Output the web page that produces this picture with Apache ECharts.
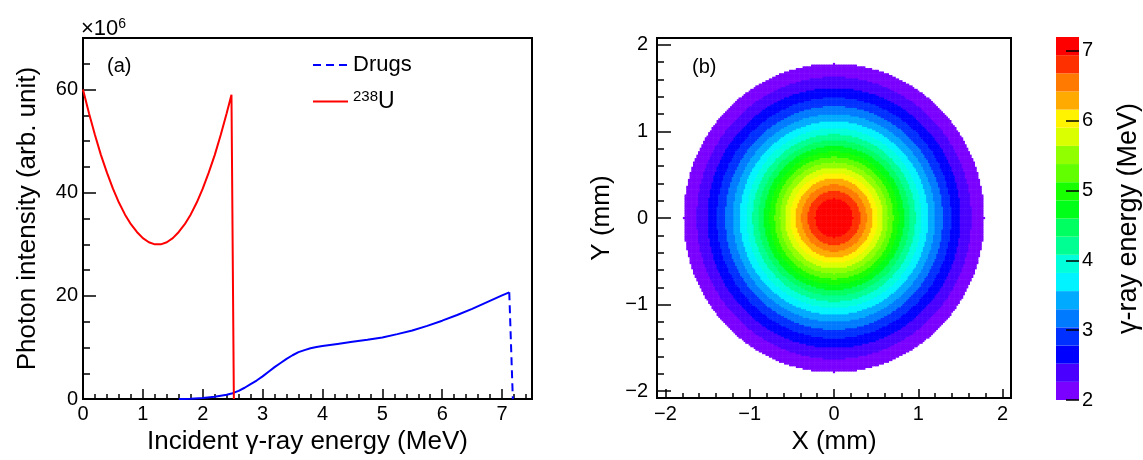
<!DOCTYPE html>
<html>
<head>
<meta charset="utf-8">
<script src="https://cdn.jsdelivr.net/npm/echarts@6/dist/echarts.min.js"></script>
<style>html,body{margin:0;padding:0;background:#fff}#c{width:1143px;height:460px}</style>
</head>
<body>
<div id="c"></div>
<script>
// ---------------- Panel (a) data ----------------
const uEnergy    = [0, 0.1, 0.2, 0.3, 0.4, 0.5, 0.6, 0.7, 0.8, 0.9, 1.0, 1.1, 1.2, 1.3, 1.4, 1.5, 1.6, 1.7, 1.8, 1.9, 2.0, 2.1, 2.2, 2.3, 2.4, 2.48, 2.52];
const uIntensity = [60, 55.4, 51.2, 47.3, 43.9, 40.8, 38.1, 35.8, 33.9, 32.4, 31.2, 30.4, 30.0, 30.0, 30.4, 31.2, 32.4, 33.9, 35.8, 38.1, 40.8, 43.9, 47.3, 51.2, 55.4, 59.0, 0];

const drugsEnergy    = [1.6, 1.8, 2.0, 2.2, 2.4, 2.5, 2.6, 2.7, 2.8, 2.9, 3.0, 3.1, 3.2, 3.3, 3.4, 3.5, 3.6, 3.7, 3.8, 3.9, 4.0, 4.25, 4.5, 4.75, 5.0, 5.25, 5.5, 5.75, 6.0, 6.25, 6.5, 6.75, 7.0, 7.12];
const drugsIntensity = [0, 0.05, 0.2, 0.45, 0.85, 1.15, 1.6, 2.2, 2.9, 3.6, 4.4, 5.3, 6.2, 7.0, 7.8, 8.5, 9.1, 9.5, 9.85, 10.1, 10.3, 10.7, 11.1, 11.5, 11.95, 12.6, 13.3, 14.2, 15.2, 16.3, 17.5, 18.8, 20.1, 20.7];
const drugsCutEnergy    = [7.12, 7.18];
const drugsCutIntensity = [20.7, 0];

const aXTicks = [0, 1, 2, 3, 4, 5, 6, 7];
const aYTicks = [0, 20, 40, 60];

// ---------------- Panel (b) data ----------------
// energy bands of the colour scale (lower edge, MeV) and colours
const bandLower  = [2.00, 2.26, 2.52, 2.78, 3.04, 3.30, 3.56, 3.82, 4.08, 4.34, 4.60, 4.86, 5.12, 5.38, 5.64, 5.90, 6.16, 6.42, 6.68, 6.94];
const bandColors = ['#7a00ff', '#4900ff', '#0000ff', '#0030ff', '#007aff', '#00aaff', '#00f3ff', '#00ffda', '#00ff92', '#00ff61',
                    '#00ff18', '#18ff00', '#61ff00', '#92ff00', '#daff00', '#fff300', '#ffaa00', '#ff7a00', '#ff3000', '#ff0000'];
// radius (mm) on the spot at which the energy drops to each band's lower edge
const bandOuterRadius = [1.78, 1.626, 1.499, 1.387, 1.287, 1.196, 1.112, 1.035, 0.962, 0.893, 0.827, 0.763, 0.701, 0.640, 0.579, 0.516, 0.452, 0.383, 0.307, 0.22];
const scaleMax = 7.2;
const bTicks = [-2, -1, 0, 1, 2];
const cTicks = [2, 3, 4, 5, 6, 7];

// ---------------- build ----------------
const FONT = '"Liberation Sans", Arial, Helvetica, sans-serif';
const txt = (size) => ({ fontSize: size, color: '#000', fontFamily: FONT });
const minusFmt = v => (v < 0 ? '\u2212' + Math.abs(v) : String(v));
function steps(from, to, step, skip) {
  const out = [];
  for (let v = from; v <= to + 1e-9; v += step) {
    const r = Math.round(v * 1000) / 1000;
    if (!skip.some(s => Math.abs(s - r) < 1e-6)) out.push(r);
  }
  return out;
}

function axisPair(gridIndex, min, max, major, minor, majLen, minLen, labelMargin, fmt, name, nameGap, position) {
  const main = {
    type: 'value', gridIndex, min, max, position,
    axisLine: { show: false, onZero: false }, splitLine: { show: false },
    axisTick: { show: true, inside: true, length: majLen, customValues: major, lineStyle: { color: '#000', width: 1.5 } },
    axisLabel: { show: true, customValues: major, margin: labelMargin, formatter: fmt, ...txt(20) },
    name, nameLocation: 'middle', nameGap, nameTextStyle: txt(26)
  };
  const mnr = {
    type: 'value', gridIndex, min, max, position,
    axisLine: { show: false, onZero: false }, splitLine: { show: false },
    axisTick: { show: true, inside: true, length: minLen, customValues: minor, lineStyle: { color: '#000', width: 1.5 } },
    axisLabel: { show: false }
  };
  return [main, mnr];
}

// panel a axes
const [ax0, ax1] = axisPair(0, 0, 7.5, aXTicks, steps(0, 7.5, 0.2, aXTicks), 10, 5, 5, null, 'Incident \u03b3-ray energy (MeV)', 28, 'bottom');
const [ay0, ay1] = axisPair(0, 0, 70, aYTicks, steps(0, 70, 5, aYTicks), 13, 7, 5, null, 'Photon intensity (arb. unit)', 42, 'left');
// panel b axes
const [bx0, bx1] = axisPair(1, -2.1, 2.1, bTicks, steps(-2, 2, 0.2, bTicks), 9, 5, 6, minusFmt, 'X (mm)', 30, 'bottom');
const [by0, by1] = axisPair(1, -2.08, 2.08, bTicks, steps(-2, 2, 0.2, bTicks), 14, 7, 9, minusFmt, 'Y (mm)', 42, 'left');
// colour bar axes
const cx = { type: 'value', gridIndex: 2, min: 0, max: 1, show: false, axisLine: { onZero: false } };
const cy = {
  type: 'value', gridIndex: 2, min: 2, max: scaleMax, position: 'right', z: 10,
  axisLine: { show: false, onZero: false }, splitLine: { show: false },
  axisTick: { show: true, inside: true, length: 13, customValues: cTicks, lineStyle: { color: '#000', width: 1.5 } },
  axisLabel: { show: true, customValues: cTicks, margin: 3, ...txt(20) },
  name: '\u03b3-ray energy (MeV)', nameLocation: 'middle', nameGap: 36, nameRotate: 90, nameTextStyle: txt(27)
};

// spot points: step grid over the disk, each point assigned to the ring it falls in
const spotSeries = bandLower.map(() => []);
const STEP = 0.02;
for (let i = -90; i <= 90; i++) {
  for (let j = -90; j <= 90; j++) {
    const x = i * STEP, y = j * STEP;
    const r = Math.hypot(x, y);
    if (r > bandOuterRadius[0]) continue;
    let k = 0;
    for (let b = 0; b < bandOuterRadius.length; b++) if (r <= bandOuterRadius[b]) k = b;
    spotSeries[k].push([x, y]);
  }
}

const series = [
  { name: 'Drugs', type: 'line', xAxisIndex: 0, yAxisIndex: 0, symbol: 'none', z: 5,
    data: drugsCutEnergy.map((e, i) => [e, drugsCutIntensity[i]]),
    lineStyle: { color: '#0000ff', width: 2, type: [8, 5] }, itemStyle: { color: '#0000ff' } },
  { name: 'Drugs spectrum', type: 'line', xAxisIndex: 0, yAxisIndex: 0, symbol: 'none', z: 5,
    data: drugsEnergy.map((e, i) => [e, drugsIntensity[i]]),
    lineStyle: { color: '#0000ff', width: 2 }, itemStyle: { color: '#0000ff' } },
  { name: '238U', type: 'line', xAxisIndex: 0, yAxisIndex: 0, symbol: 'none', z: 6,
    data: uEnergy.map((e, i) => [e, uIntensity[i]]),
    lineStyle: { color: '#ff0000', width: 2 }, itemStyle: { color: '#ff0000' } }
];
spotSeries.forEach((pts, k) => series.push({
  type: 'scatter', name: 'band' + k, xAxisIndex: 2, yAxisIndex: 2, data: pts,
  symbol: 'rect', symbolSize: 2.2, large: true, largeThreshold: 100, silent: true,
  itemStyle: { color: bandColors[k], opacity: 1 }
}));
series.push({
  type: 'custom', name: 'scale', xAxisIndex: 4, yAxisIndex: 4, silent: true, z: 0,
  data: bandLower.map((lo, i) => [0, lo, i < bandLower.length - 1 ? bandLower[i + 1] : scaleMax, i]),
  renderItem: (params, api) => {
    const p0 = api.coord([0, api.value(1)]);
    const p1 = api.coord([1, api.value(2)]);
    return { type: 'rect', shape: { x: p0[0], y: p1[1], width: p1[0] - p0[0], height: p0[1] - p1[1] },
             style: { fill: bandColors[api.value(3)] } };
  }
});

const chart = echarts.init(document.getElementById('c'), null, { renderer: 'canvas' });
chart.setOption({
  animation: false,
  backgroundColor: '#fff',
  grid: [
    { left: 83, top: 38, width: 449, height: 362, show: true, borderColor: '#000', borderWidth: 2, backgroundColor: 'transparent' },
    { left: 657, top: 38, width: 354, height: 362, show: true, borderColor: '#000', borderWidth: 2, backgroundColor: 'transparent' },
    { left: 1056, top: 37, width: 24, height: 363, show: false }
  ],
  xAxis: [ax0, ax1, bx0, bx1, cx],
  yAxis: [ay0, ay1, by0, by1, cy],
  legend: {
    data: ['Drugs', '238U'], orient: 'vertical', left: 307, top: 49,
    itemWidth: 35, itemHeight: 14, itemGap: 13, selectedMode: false,
    itemStyle: { opacity: 0, borderWidth: 0 },
    textStyle: { ...txt(22), rich: { sup: { fontSize: 15, fontFamily: FONT, color: '#000', padding: [0, 0, 10, 0] }, u: { fontSize: 23, fontFamily: FONT, color: '#000' } } },
    formatter: n => (n === '238U' ? '{sup|238}{u|U}' : n)
  },
  graphic: [
    { type: 'text', left: 81, top: 17, style: { text: '{a|\u00d710}{b|6}', rich: { a: { fontSize: 22, fontFamily: FONT, fill: '#000' }, b: { fontSize: 14, fontFamily: FONT, fill: '#000', padding: [0, 0, 10, 0] } } } },
    { type: 'text', left: 107, top: 56, style: { text: '(a)', fontSize: 20, fontFamily: FONT, fill: '#000' } },
    { type: 'text', left: 692, top: 57, style: { text: '(b)', fontSize: 20, fontFamily: FONT, fill: '#000' } }
  ],
  series
});
</script>
</body>
</html>
